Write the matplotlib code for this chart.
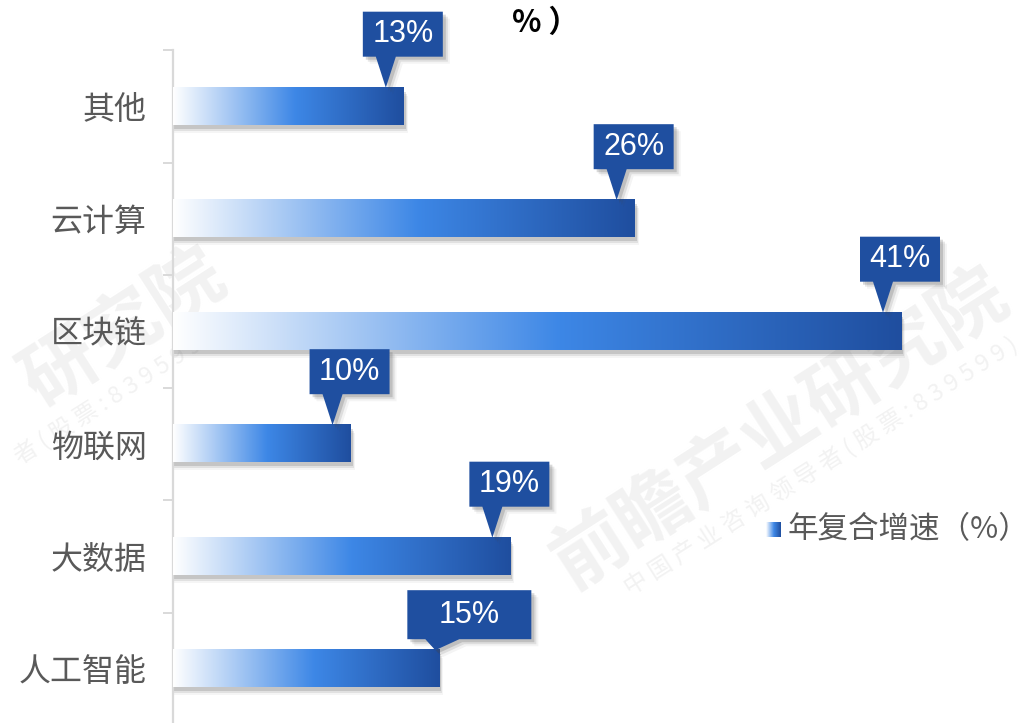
import numpy as np
import matplotlib.pyplot as plt
from matplotlib.colors import LinearSegmentedColormap
from matplotlib.patches import Polygon

plt.rcParams['font.family'] = ['Noto Sans CJK SC', 'DejaVu Sans']

categories = ['其他', '云计算', '区块链', '物联网', '大数据', '人工智能']
growth = [13, 26, 41, 10, 19, 15]
legend_label = '年复合增速（%）'
title_tail = '%）'

W, H = 1031, 723
fig = plt.figure(figsize=(W / 100, H / 100), dpi=100)

# background layer for the faint watermark (pixel coordinates, origin top-left)
bg = fig.add_axes([0, 0, 1, 1], zorder=-1)
bg.set_xlim(0, W)
bg.set_ylim(H, 0)
bg.axis('off')
wm_color = '#f2f2f2'
bg.text(781, 429, '前瞻产业研究院', fontsize=54, fontweight='bold', color=wm_color,
        rotation=32.7, ha='center', va='center', rotation_mode='anchor')
bg.text(1016, 343, ' '.join('中国产业咨询领导者(股票:839599)'), fontsize=17,
        color=wm_color, rotation=32.4, ha='right', va='center', rotation_mode='anchor')
bg.text(124, 329, '研究院', fontsize=54, fontweight='bold', color=wm_color,
        rotation=32.7, ha='center', va='center', rotation_mode='anchor')
bg.text(211, 336, ' '.join('者(股票:839599)'), fontsize=17,
        color=wm_color, rotation=32.4, ha='right', va='center', rotation_mode='anchor')

ax = fig.add_axes([173 / W, -2 / H, (1000 - 173) / W, 675 / H], zorder=1)
ax.patch.set_alpha(0)
xmax = (1000 - 173) / (728 / 41)
n = len(categories)

bar_cmap = LinearSegmentedColormap.from_list(
    'bar', [(0, '#ffffff'), (0.53, '#3d87e6'), (1, '#1f4e9f')])
grad = np.linspace(0, 1, 256).reshape(1, -1)
bar_h = 0.33
box_color = '#1f4fa0'

ax.set_xlim(0, xmax)
ax.set_ylim(n - 0.5, -0.5)


def to_px(x, y):
    return ax.transData.transform((x, y))


def to_data(pts):
    return ax.transData.inverted().transform(np.asarray(pts, dtype=float))


# bars with soft drop shadow
for i, v in enumerate(growth):
    x0, yt = to_px(0, i - bar_h / 2)
    x1, yb = to_px(v, i + bar_h / 2)
    for dx, dy, a in [(4, 8, 0.06), (3, 6, 0.12), (2, 4, 0.2)]:
        pts = to_data([(x0, yb - dy), (x1 + dx, yb - dy), (x1 + dx, yt - dy), (x0, yt - dy)])
        ax.add_patch(Polygon(pts, closed=True, facecolor='#555555', edgecolor='none',
                             alpha=a, zorder=2))
    ax.imshow(grad, cmap=bar_cmap, extent=(0, v, i + bar_h / 2, i - bar_h / 2),
              aspect='auto', interpolation='bicubic', zorder=3)

ax.set_xlim(0, xmax)
ax.set_ylim(n - 0.5, -0.5)

# value callouts: left offset, width, height, gap above bar, tip offset, base offsets
callout_style = [(-41, 80, 45, 31, 23, -10, 10)] * 5 + [(-32, 124, 49, 11, 28, -10, 24)]
for i, v in enumerate(growth):
    ex, ey = to_px(v, i - bar_h / 2)
    dl, bw, bh, gap, tip, bl, br = callout_style[i]
    L = ex + dl
    R = L + bw
    B = ey + gap
    T = B + bh
    tx = L + tip
    outline = [(L, T), (R, T), (R, B), (tx + br, B), (tx, ey), (tx + bl, B), (L, B)]
    for dx, dy, a in [(7, -7, 0.06), (5, -5, 0.12), (3, -3, 0.2)]:
        sh = to_data([(px + dx, py + dy) for px, py in outline])
        ax.add_patch(Polygon(sh, closed=True, facecolor='#444444', edgecolor='none',
                             alpha=a, zorder=4, clip_on=False))
    ax.add_patch(Polygon(to_data(outline), closed=True, facecolor=box_color,
                         edgecolor='none', zorder=5, clip_on=False))
    cx, cy = to_data([((L + R) / 2, (B + T) / 2)])[0]
    ax.text(cx, cy, f'{v}%', color='white', fontsize=22, family='Liberation Sans',
            ha='center', va='center', zorder=6)

# axis styling
for s in ['top', 'right', 'bottom']:
    ax.spines[s].set_visible(False)
ax.spines['left'].set_color('#d9d9d9')
ax.spines['left'].set_linewidth(1.6)
ax.set_xticks([])
ax.set_yticks(range(n))
ax.set_yticklabels(categories, fontsize=23, color='#595959')
ax.tick_params(axis='y', which='major', length=0, pad=19)
ax.set_yticks(np.arange(-0.5, n, 1.0), minor=True)
ax.tick_params(axis='y', which='minor', length=7, width=1.4, color='#d9d9d9')

# legend
lax = fig.add_axes([766 / W, 1 - 537 / H, 15 / W, 15 / H], zorder=2)
lax.imshow(np.linspace(0.25, 1, 64).reshape(1, -1), cmap=bar_cmap, aspect='auto')
lax.axis('off')
fig.text(788 / W, 1 - 530 / H, legend_label, fontsize=22,
         color='#595959', ha='left', va='center')

fig.text(512 / W, 1 - 23 / H, title_tail.replace('%）', '% ）'), fontsize=22,
         fontweight='bold', color='black', ha='left', va='center')

fig.savefig('out.png', dpi=100, facecolor='white')
